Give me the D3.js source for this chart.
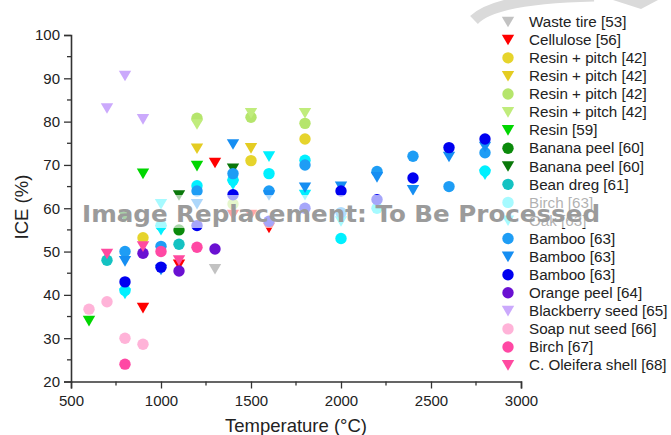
<!DOCTYPE html>
<html>
<head>
<meta charset="utf-8">
<script src="https://cdn.jsdelivr.net/npm/d3@7"></script>
<style>
  body { margin: 0; background: #fff; }
  text { font-family: "Liberation Sans", Arial, sans-serif; }
</style>
</head>
<body>
<script>
// values: [temperature °C, ICE %]
var wasteTire = [[1300, 46]];
var cellulose = [[900, 37], [1100, 47], [1300, 70.5], [1400, 58.5], [1500, 58.5], [1600, 55.5]];
var resinPitchA = [[900, 53.2], [1500, 71], [1800, 76]];
var resinPitchB = [[1200, 73.8], [1500, 73.9]];
var resinPitchC = [[1200, 80.8], [1400, 61], [1500, 81], [1800, 79.6]];
var resinPitchD = [[1200, 79.4], [1500, 82], [1800, 82]];
var resin = [[600, 34], [900, 68], [1200, 69.8]];
var bananaPeelA = [[1100, 55]];
var bananaPeelB = [[800, 58], [1100, 63], [1400, 69.2]];
var beanDreg = [[700, 48], [1100, 51.7]];
var birch63 = [[800, 41], [1000, 56], [1200, 65.2], [1400, 66.5], [1600, 68], [1800, 71.1], [2000, 53], [2200, 60], [2800, 68.6]];
var oak63 = [[800, 40.3], [1000, 55], [1000, 61], [1400, 65.5], [1600, 72], [1800, 63.1], [2000, 57], [2800, 67.8]];
var bambooA = [[800, 50], [1000, 51.2], [1200, 64], [1400, 68], [1600, 64], [1800, 70], [2000, 59], [2200, 68.5], [2400, 72], [2600, 65], [2800, 72.8]];
var bambooB = [[800, 47.8], [1000, 45.8], [1200, 61], [1400, 74.8], [1600, 63], [1800, 64.8], [2000, 65], [2200, 67.2], [2400, 64.2], [2600, 71.9], [2800, 74.2]];
var bambooC = [[800, 43], [1000, 46.4], [1200, 56], [1400, 63.1], [1600, 57], [1800, 60], [2000, 64], [2200, 62], [2400, 67], [2600, 74], [2800, 76]];
var orangePeel = [[900, 49.6], [1100, 45.5], [1300, 50.6]];
var blackberry = [[700, 83.1], [800, 90.6], [900, 80.6]];
var soapNut = [[600, 36.7], [700, 38.4], [800, 30], [900, 28.6]];
var birch67 = [[800, 24], [1000, 50], [1200, 51]];
var oleifera = [[700, 49.5], [900, 51.2], [1100, 48]];

var legendNames = ["Waste tire [53]", "Cellulose [56]", "Resin + pitch [42]", "Resin + pitch [42]",
    "Resin + pitch [42]", "Resin + pitch [42]", "Resin [59]", "Banana peel [60]", "Banana peel [60]",
    "Bean dreg [61]", "Birch [63]", "Oak [63]", "Bamboo [63]", "Bamboo [63]", "Bamboo [63]",
    "Orange peel [64]", "Blackberry seed [65]", "Soap nut seed [66]", "Birch [67]", "C. Oleifera shell [68]"];
var seriesValues = [wasteTire, cellulose, resinPitchA, resinPitchB, resinPitchC, resinPitchD, resin,
    bananaPeelA, bananaPeelB, beanDreg, birch63, oak63, bambooA, bambooB, bambooC,
    orangePeel, blackberry, soapNut, birch67, oleifera];
var xTicks = [500, 1000, 1500, 2000, 2500, 3000];
var yTicks = [20, 30, 40, 50, 60, 70, 80, 90, 100];

// style per series, same order
var shapes = ["tri", "tri", "circ", "tri", "circ", "tri", "tri", "circ", "tri", "circ", "circ", "tri",
    "circ", "tri", "circ", "circ", "tri", "circ", "circ", "tri"];
var colors = ["#c2c2c2", "#ff0000", "#e6d42c", "#e4cc22", "#b5e56c", "#c0ec7c", "#00d600", "#0b8a0b",
    "#0a780a", "#14c2c2", "#00f0ff", "#00f0ff", "#1e9df5", "#168ef2", "#0000f0", "#6a10d2",
    "#cba9fc", "#ffb3d8", "#ff48a4", "#ff4aa0"];

var width = 671, height = 435;
var svg = d3.select("body").append("svg")
    .attr("width", width)
    .attr("height", height);

var x = d3.scaleLinear().domain([500, 3000]).range([71, 521]);
var y = d3.scaleLinear().domain([20, 100]).range([381.5, 35]);

function marker(sel, shape, color) {
    if (shape == "circ") {
        sel.append("circle").attr("r", 5.7).attr("fill", color);
    } else {
        sel.append("path").attr("d", "M-6.2,-5L6.2,-5L0,5.6Z").attr("fill", color);
    }
}

// points
seriesValues.forEach(function (vals, i) {
    var g = svg.append("g");
    vals.forEach(function (d) {
        var m = g.append("g").attr("transform", "translate(" + x(d[0]) + "," + y(d[1]) + ")");
        marker(m, shapes[i], colors[i]);
    });
});

// axes
var xAxis = d3.axisBottom(x).tickValues(xTicks).tickFormat(d3.format("d")).tickSize(7).tickPadding(7);
var yAxis = d3.axisLeft(y).tickValues(yTicks).tickSize(7).tickPadding(4);

var gx = svg.append("g").attr("transform", "translate(0," + y(20) + ")").call(xAxis);
var gy = svg.append("g").attr("transform", "translate(" + x(500) + ",0)").call(yAxis);

[gx, gy].forEach(function (g) {
    g.select(".domain").attr("stroke", "#333").attr("stroke-width", 1.6);
    g.selectAll(".tick line").attr("stroke", "#333").attr("stroke-width", 1.3);
    g.selectAll(".tick text").attr("fill", "#222").style("font-size", "15px")
        .style("font-family", "Liberation Sans, Arial, sans-serif");
});

// minor ticks
var xMinor = d3.range(750, 3000, 500);
var yMinor = d3.range(25, 100, 10);
svg.append("g").selectAll("line").data(xMinor).enter().append("line")
    .attr("x1", function (d) { return x(d); }).attr("x2", function (d) { return x(d); })
    .attr("y1", y(20)).attr("y2", y(20) + 4)
    .attr("stroke", "#333").attr("stroke-width", 1.3);
svg.append("g").selectAll("line").data(yMinor).enter().append("line")
    .attr("y1", function (d) { return y(d); }).attr("y2", function (d) { return y(d); })
    .attr("x1", x(500)).attr("x2", x(500) - 4)
    .attr("stroke", "#333").attr("stroke-width", 1.3);

// axis titles
svg.append("text")
    .attr("x", 296).attr("y", 432)
    .attr("text-anchor", "middle")
    .style("font-size", "18.5px").attr("fill", "#222")
    .text("Temperature (°C)");
svg.append("text")
    .attr("transform", "translate(28,207) rotate(-90)")
    .attr("text-anchor", "middle")
    .style("font-size", "18.5px").attr("fill", "#222")
    .text("ICE (%)");

// legend
var legend = svg.append("g");
legendNames.forEach(function (name, i) {
    var yy = 21.7 + i * 18.07;
    var m = legend.append("g").attr("transform", "translate(508," + yy + ")");
    marker(m, shapes[i], colors[i]);
    legend.append("text")
        .attr("x", 529).attr("y", yy + 5.3)
        .style("font-size", "15.2px").attr("fill", "#222")
        .text(name);
});

// watermark overlay
var wm = svg.append("g");
wm.append("path")
    .attr("d", "M474,20 Q496,-2 594,-4")
    .attr("fill", "none").attr("stroke", "#dadada").attr("stroke-width", 11);
wm.append("path")
    .attr("d", "M613,0L658,0L641,9Z")
    .attr("fill", "#dadada");
wm.append("rect")
    .attr("x", 78).attr("y", 195).attr("width", 526).attr("height", 33)
    .attr("fill", "#fff").attr("opacity", 0.65);
wm.append("text")
    .attr("x", 82).attr("y", 222)
    .attr("textLength", 518).attr("lengthAdjust", "spacingAndGlyphs")
    .style("font-family", "DejaVu Sans, sans-serif")
    .style("font-weight", "bold").style("font-size", "23px")
    .attr("fill", "#9b9b9b")
    .text("Image Replacement: To Be Processed");
</script>
</body>
</html>
